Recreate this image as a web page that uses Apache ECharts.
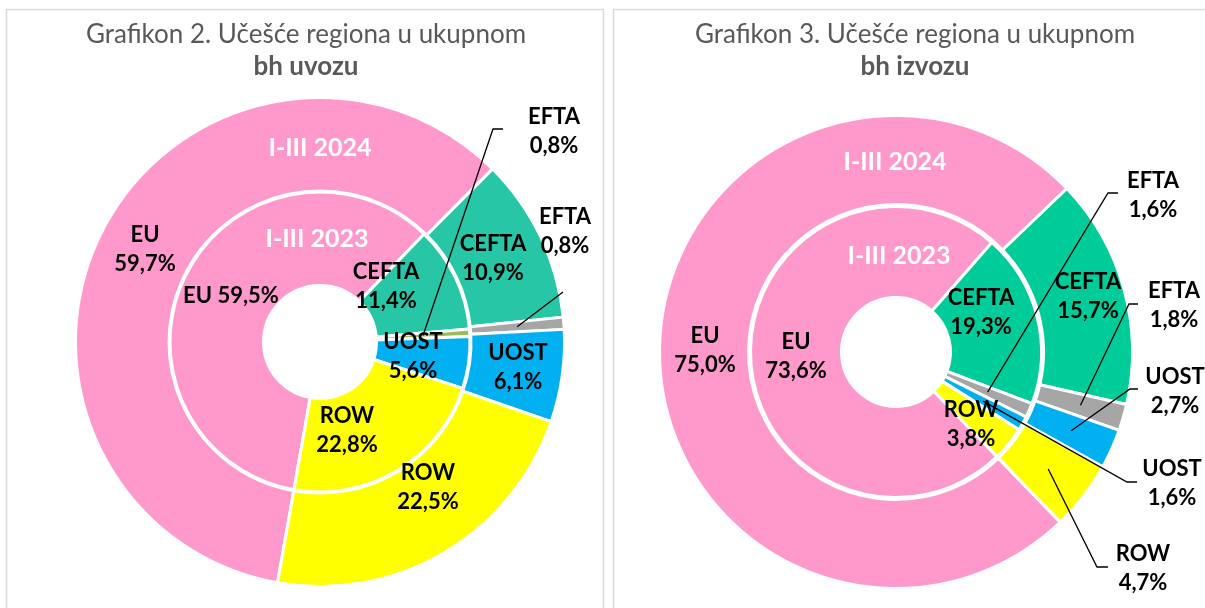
<!DOCTYPE html>
<html>
<head>
<meta charset="utf-8">
<title>Učešće regiona u bh uvozu i izvozu</title>
<script src="https://cdn.jsdelivr.net/npm/echarts@6/dist/echarts.min.js"></script>
<style>
  html, body { margin: 0; padding: 0; background: #fff; }
  #chart { width: 1205px; height: 608px; }
</style>
</head>
<body>
<div id="chart"></div>
<script>
// regioni, redoslijed kao u tabeli
const regions = ['EU', 'CEFTA', 'EFTA', 'UOST', 'ROW'];

// Grafikon 2 - uvoz (%)
const uvoz2023 = [59.5, 11.4, 0.8, 5.6, 22.8];
const uvoz2024 = [59.7, 10.9, 0.8, 6.1, 22.5];

// Grafikon 3 - izvoz (%)
const izvoz2023 = [73.6, 19.3, 1.6, 1.6, 3.8];
const izvoz2024 = [75.0, 15.7, 1.8, 2.7, 4.7];

const colorsUvozInner = ['#ff99cc', '#26c6a6', '#9bbb59', '#00b0f0', '#ffff00'];
const colorsUvozOuter = ['#ff99cc', '#26c6a6', '#a6a6a6', '#00b0f0', '#ffff00'];
const colorsIzvoz = ['#ff99cc', '#00cc99', '#a6a6a6', '#00b0f0', '#ffff00'];

// centri labela (px)
const labelPos = {
  uvoz2023: { EU: [231, 296], CEFTA: [386, 286], EFTA: [554, 131], UOST: [413, 356], ROW: [347, 430] },
  uvoz2024: { EU: [145, 249], CEFTA: [493, 258], EFTA: [565, 231], UOST: [518, 367], ROW: [428, 487] },
  izvoz2023: { EU: [796, 356], CEFTA: [981, 312], EFTA: [1153, 195], UOST: [1172, 483], ROW: [971, 424] },
  izvoz2024: { EU: [705, 350], CEFTA: [1088, 296], EFTA: [1174, 305], UOST: [1175, 391], ROW: [1143, 568] }
};
// linije do labela: lakat i kraj kod teksta
const leaders = {
  uvoz2023: { EFTA: [[493, 129], [503, 129]] },
  uvoz2024: { EFTA: [[563, 292]] },
  izvoz2023: { EFTA: [[1108, 193], [1118, 193]], UOST: [[1127, 482], [1137, 482]] },
  izvoz2024: { EFTA: [[1129, 304], [1138, 304]], UOST: [[1130, 389], [1138, 389]], ROW: [[1097, 567], [1108, 567]] }
};

const FONT = 'Lato, "Open Sans", sans-serif';

const rings = [
  { id: 'uvoz2023', values: uvoz2023, colors: colorsUvozInner, center: [320, 342], radius: [56.5, 150], start: 260, oneLine: ['EU'] },
  { id: 'uvoz2024', values: uvoz2024, colors: colorsUvozOuter, center: [320, 342], radius: [151, 244.5], start: 260, oneLine: [] },
  { id: 'izvoz2023', values: izvoz2023, colors: colorsIzvoz, center: [896, 352], radius: [54.5, 145.5], start: 314, oneLine: [] },
  { id: 'izvoz2024', values: izvoz2024, colors: colorsIzvoz, center: [896, 352], radius: [147.5, 236.5], start: 314, oneLine: [] }
];

// sredina isjecka (srednji ugao, srednji radijus) - pocetak linije
function sliceMid(rg, idx) {
  const total = rg.values.reduce(function (s, v) { return s + v; }, 0);
  let before = 0;
  for (let i = 0; i < idx; i++) before += rg.values[i];
  const ang = (rg.start - 360 * (before + rg.values[idx] / 2) / total) * Math.PI / 180;
  const r = (rg.radius[0] + rg.radius[1]) / 2;
  return [rg.center[0] + r * Math.cos(ang), rg.center[1] - r * Math.sin(ang)];
}

function ring(rg) {
  return {
    type: 'pie',
    id: rg.id,
    center: rg.center,
    radius: rg.radius,
    startAngle: rg.start,
    clockwise: true,
    avoidLabelOverlap: false,
    silent: true,
    animation: false,
    itemStyle: { borderColor: '#fff', borderWidth: 3 },
    label: {
      show: true,
      position: 'inside',
      color: '#000',
      fontFamily: FONT,
      fontWeight: 'bold',
      fontSize: 22,
      lineHeight: 29,
      formatter: function (p) {
        const sep = rg.oneLine.indexOf(p.name) >= 0 ? ' ' : '\n';
        return p.name + sep + p.value.toFixed(1).replace('.', ',') + '%';
      }
    },
    labelLine: { show: false },
    data: regions.map(function (name, i) {
      return { name: name, value: rg.values[i], itemStyle: { color: rg.colors[i] } };
    }),
    labelLayout: function (p) {
      const pos = labelPos[rg.id][regions[p.dataIndex]];
      return { x: pos[0], y: pos[1], align: 'center', verticalAlign: 'middle' };
    }
  };
}

function txt(x, y, text, size, weight, color) {
  return {
    type: 'text', x: x, y: y, z: 10,
    style: {
      text: text, fill: color, fontFamily: FONT, fontSize: size, fontWeight: weight,
      align: 'center', verticalAlign: 'middle'
    }
  };
}

const graphics = [
  { type: 'rect', shape: { x: 6.5, y: 9.5, width: 597, height: 620 }, style: { fill: 'none', stroke: '#d9d9d9', lineWidth: 1.5 }, z: 0 },
  { type: 'rect', shape: { x: 613.5, y: 9.5, width: 610, height: 620 }, style: { fill: 'none', stroke: '#d9d9d9', lineWidth: 1.5 }, z: 0 },
  txt(306, 35, 'Grafikon 2. Učešće regiona u ukupnom', 26, 'normal', '#595959'),
  txt(306, 67, 'bh uvozu', 26, 'bold', '#595959'),
  txt(915, 35, 'Grafikon 3. Učešće regiona u ukupnom', 26, 'normal', '#595959'),
  txt(915, 67, 'bh izvozu', 26, 'bold', '#595959'),
  txt(320, 148, 'I-III 2024', 25, 'bold', '#fff'),
  txt(317, 239, 'I-III 2023', 25, 'bold', '#fff'),
  txt(895, 162, 'I-III 2024', 25, 'bold', '#fff'),
  txt(899, 256, 'I-III 2023', 25, 'bold', '#fff')
];

// linije od isjecka do labele
rings.forEach(function (rg) {
  regions.forEach(function (name, i) {
    const lead = leaders[rg.id][name];
    if (!lead) return;
    graphics.push({
      type: 'polyline', z: 20, silent: true,
      shape: { points: [sliceMid(rg, i)].concat(lead) },
      style: { stroke: '#000', lineWidth: 1.3, fill: 'none' }
    });
  });
});

const chart = echarts.init(document.getElementById('chart'));
chart.setOption({
  animation: false,
  graphic: graphics,
  series: rings.map(ring)
});
</script>
</body>
</html>
